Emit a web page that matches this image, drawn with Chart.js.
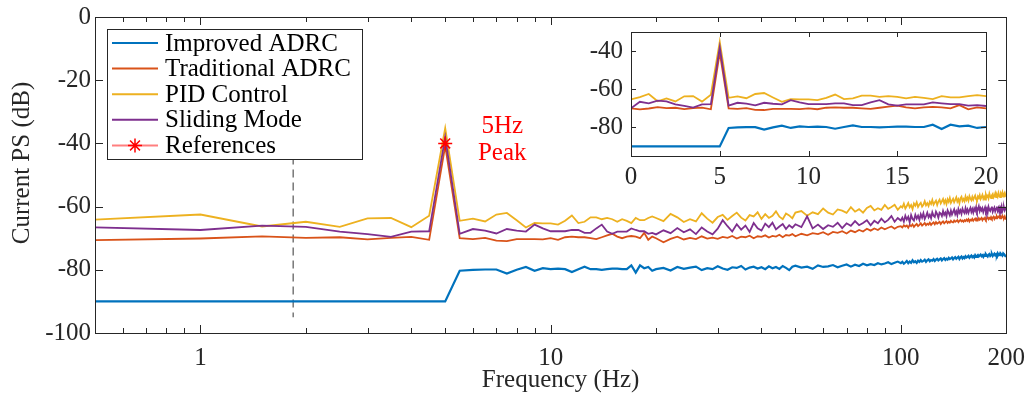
<!DOCTYPE html>
<html>
<head>
<meta charset="utf-8">
<script src="https://cdn.jsdelivr.net/npm/chart.js@4.4.1/dist/chart.umd.min.js"></script>
<style>
  html, body { margin: 0; padding: 0; background: #fff; }
  #wrap { position: relative; width: 1035px; height: 403px; }
  #main { position: absolute; left: 0; top: 0; }
  #inset { position: absolute; left: 580px; top: 20px; }
</style>
</head>
<body>
<div id="wrap">
  <canvas id="main" width="1035" height="403"></canvas>
  <canvas id="inset" width="430" height="185"></canvas>
</div>
<script>
// ---- data (dB), 0..20 Hz at 0.5 Hz, then coarser above 20 Hz ----
var freqLow = [0, 0.5, 1, 1.5, 2, 2.5, 3, 3.5, 4, 4.5, 5, 5.5, 6, 6.5, 7, 7.5, 8, 8.5, 9, 9.5, 10,
  10.5, 11, 11.5, 12, 12.5, 13, 13.5, 14, 14.5, 15, 15.5, 16, 16.5, 17, 17.5, 18, 18.5, 19, 19.5, 20];

var freqHigh = [21, 22, 23, 24, 25, 26, 27, 28, 29, 30, 31, 32, 33, 34, 35, 36, 37, 38, 39, 40,
  41, 42, 43, 44, 45, 46, 47, 48, 49, 50,
  52, 54, 56, 58, 60, 62, 64, 66, 68, 70, 72, 74, 76, 78, 80, 82, 84, 86, 88, 90, 92, 94, 96, 98, 100,
  101, 102, 103, 104, 105, 106, 107, 108, 109, 110, 111, 112, 113, 114, 115, 116, 117, 118, 119, 120,
  121, 122, 123, 124, 125, 126, 127, 128, 129, 130, 131, 132, 133, 134, 135, 136, 137, 138, 139, 140,
  141, 142, 143, 144, 145, 146, 147, 148, 149, 150, 151, 152, 153, 154, 155, 156, 157, 158, 159, 160,
  161, 162, 163, 164, 165, 166, 167, 168, 169, 170, 171, 172, 173, 174, 175, 176, 177, 178, 179, 180,
  181, 182, 183, 184, 185, 186, 187, 188, 189, 190, 191, 192, 193, 194, 195, 196, 197, 198, 199, 200];

var improvedLow = [-90, -90, -90, -90, -90, -90, -90, -90, -90, -90, -90, -80.3, -80.0, -79.9, -79.9, -81.2, -80.0, -79.1, -80.3, -79.5, -79.8,
  -79.6, -79.8, -80.7, -79.8, -79.0, -79.8, -79.8, -80.0, -79.8, -79.6, -79.6, -79.8, -79.8, -78.6, -80.9, -78.6, -79.5, -79.1, -80.3, -79.8];
var improvedHigh = [-79.4, -80.2, -79.1, -79.7, -79.3, -79.0, -80.1, -79.5, -79.8, -78.9, -79.6, -80.0, -79.2, -79.4, -78.8, -79.9, -79.3, -79.0, -79.6, -79.2,
  -79.8, -78.9, -79.5, -79.1, -79.7, -78.8, -79.4, -80.1, -79.0, -78.7,
  -79.3, -79.0, -79.7, -78.6, -79.1, -78.9, -78.5, -79.2, -78.7, -78.3, -79.0, -78.4, -78.8, -78.1, -78.6, -78.2, -78.5, -77.9, -78.3, -78.0, -77.6, -78.2, -77.8, -77.4, -77.9,
  -77.5, -78.1, -77.7, -77.2, -77.9, -77.4, -77.8, -77.0, -77.6, -77.3,
  -77.8, -77.1, -77.5, -76.9, -77.4, -77.2, -76.8, -77.5, -77.0, -76.7,
  -77.3, -76.9, -77.1, -76.6, -77.2, -76.8, -76.5, -77.0, -76.7, -76.4,
  -77.0, -76.6, -76.3, -76.9, -76.5, -76.8, -76.2, -76.6, -76.4, -76.1,
  -76.7, -76.3, -76.0, -76.5, -76.2, -75.9, -76.6, -76.1, -75.8, -76.4,
  -76.0, -76.3, -75.7, -76.1, -75.9, -75.6, -76.2, -75.8, -75.5, -76.0,
  -75.7, -76.1, -75.4, -75.9, -75.6, -75.3, -75.8, -75.5, -75.2, -75.7,
  -75.4, -75.9, -75.3, -75.6, -75.1, -75.5, -75.8, -75.2, -75.0, -75.6,
  -75.3, -75.0, -75.6, -75.2, -74.9, -75.4, -75.1, -75.5, -74.8, -75.3,
  -75.0, -75.4, -74.9, -75.2, -75.5, -74.8, -75.1, -75.3, -75.6, -75.4];

var traditionalLow = [-70.0, -70.6, -70.1, -69.4, -69.9, -69.7, -70.4, -69.9, -69.6, -70.5, -40.8, -70.0, -70.3, -69.9, -70.8, -70.9, -70.3, -70.3, -70.3, -70.4, -70.0,
  -70.5, -69.7, -69.5, -69.7, -69.7, -70.0, -70.3, -69.7, -69.1, -68.6, -69.5, -70.0, -69.5, -69.3, -69.5, -70.0, -68.3, -70.5, -69.5, -70.0];
var traditionalHigh = [-71.3, -70.2, -69.5, -70.4, -69.9, -70.3, -69.4, -70.1, -69.8, -70.2, -69.6, -69.9, -69.3, -70.1, -69.5, -69.7, -69.2, -70.0, -69.4, -69.6,
  -69.1, -69.8, -69.3, -69.5, -68.9, -69.7, -69.0, -69.2, -68.7, -69.4,
  -68.6, -69.1, -68.4, -68.7, -68.1, -68.9, -68.0, -68.3, -67.8, -68.5, -67.6, -68.1, -67.4, -67.9, -67.0, -67.6, -66.9, -67.4, -66.6, -67.2, -66.7, -66.3, -67.0, -66.4, -66.2,
  -66.6, -65.9, -66.3, -66.0, -66.7, -65.8, -66.2, -65.6, -66.4, -65.9,
  -65.5, -66.2, -65.8, -65.3, -66.0, -65.6, -65.2, -65.9, -65.4, -65.7,
  -65.1, -65.8, -65.3, -65.0, -65.6, -64.9, -65.4, -65.1, -64.8, -65.5,
  -65.0, -64.7, -65.3, -64.9, -64.6, -65.2, -64.8, -65.1, -64.5, -64.9,
  -65.0, -64.4, -64.8, -64.6, -64.3, -64.9, -64.5, -64.2, -64.7, -64.4,
  -64.8, -64.3, -64.6, -64.1, -64.5, -64.0, -64.7, -64.2, -64.4, -63.9,
  -64.5, -64.1, -63.8, -64.4, -64.0, -64.3, -63.7, -64.2, -63.9, -63.6,
  -64.3, -63.8, -64.0, -63.5, -64.1, -63.7, -63.4, -64.0, -63.6, -63.9,
  -63.3, -63.8, -63.5, -63.2, -63.9, -63.4, -63.7, -63.1, -63.6, -63.3,
  -63.0, -63.7, -63.2, -63.5, -62.9, -63.4, -63.6, -63.1, -63.8, -64.0];

var pidLow = [-65.3, -64.1, -62.5, -66.3, -64.8, -66.4, -63.7, -63.6, -66.5, -62.9, -35.2, -64.5, -63.8, -64.7, -62.5, -62.0, -64.3, -66.6, -65.2, -65.3, -65.3,
  -65.7, -64.5, -62.8, -65.2, -64.8, -63.4, -63.4, -64.0, -63.6, -64.0, -64.8, -64.0, -64.5, -65.2, -63.6, -64.3, -64.3, -63.6, -63.1, -63.6];
var pidHigh = [-64.6, -62.3, -63.4, -64.9, -64.0, -64.7, -62.1, -63.8, -65.1, -63.3, -62.6, -64.2, -63.0, -61.9, -63.5, -64.4, -62.7, -63.1, -61.8, -63.9,
  -62.4, -63.6, -62.9, -61.5, -63.2, -64.0, -62.2, -62.8, -63.7, -61.9,
  -61.4, -62.9, -61.8, -62.4, -60.6, -61.9, -62.5, -60.9, -61.3, -62.0, -60.2, -61.6, -60.8, -61.9, -60.4, -59.8, -61.2, -60.5, -61.0, -59.5, -60.7, -60.1, -59.4, -61.0, -59.9,
  -60.3, -59.1, -60.6, -59.8, -58.9, -60.2, -59.5, -60.8, -59.0, -59.7,
  -58.6, -60.1, -59.3, -58.8, -60.0, -59.4, -58.3, -59.6, -58.9, -59.8,
  -58.5, -59.2, -57.9, -59.4, -58.7, -58.1, -59.5, -58.4, -57.8, -59.0,
  -58.3, -57.6, -58.9, -58.0, -59.2, -57.7, -58.5, -57.3, -58.8, -58.1,
  -57.5, -58.6, -57.9, -57.1, -58.4, -57.7, -58.9, -57.4, -56.9, -58.2,
  -57.6, -58.3, -56.8, -57.9, -57.2, -58.1, -56.7, -57.5, -58.0, -56.9,
  -57.8, -57.1, -56.5, -57.7, -58.0, -56.8, -57.3, -56.4, -57.6, -57.0,
  -56.3, -57.5, -56.9, -57.8, -56.2, -57.0, -56.6, -57.4, -55.9, -56.8,
  -57.3, -56.4, -56.0, -57.1, -56.7, -55.8, -57.0, -56.3, -56.9, -55.7,
  -56.6, -57.0, -55.9, -56.4, -55.5, -56.8, -56.1, -55.6, -56.5, -56.2];

var slidingLow = [-70.0, -66.6, -67.4, -66.0, -66.4, -67.9, -68.7, -69.6, -67.9, -67.8, -38.0, -68.6, -67.1, -67.6, -68.5, -67.1, -67.6, -67.9, -65.7, -66.9, -67.8,
  -67.8, -67.8, -67.4, -67.4, -68.3, -68.3, -66.9, -65.7, -67.9, -68.6, -67.9, -67.9, -67.9, -66.9, -67.4, -67.8, -67.8, -68.6, -68.3, -68.8];
var slidingHigh = [-67.5, -68.4, -66.8, -68.1, -67.2, -68.7, -66.6, -67.9, -68.8, -67.0, -64.3, -66.2, -67.9, -65.6, -67.3, -66.0, -68.0, -65.2, -66.9, -67.6,
  -65.4, -66.5, -65.1, -67.2, -66.3, -65.5, -67.1, -65.9, -66.7, -65.6,
  -66.5, -63.1, -66.9, -65.7, -67.1, -65.9, -66.4, -65.1, -66.8, -65.3, -66.1, -64.6, -65.9, -65.2, -64.3, -65.9, -64.5, -65.3, -63.8, -65.0, -64.2, -63.0, -64.8, -63.6, -64.4,
  -63.5, -64.8, -62.9, -64.1, -63.2, -65.0, -62.7, -63.9, -64.4, -62.6,
  -63.8, -62.9, -64.2, -62.4, -63.5, -62.1, -63.9, -63.0, -61.9, -63.4,
  -62.6, -63.7, -61.8, -62.9, -63.3, -61.6, -62.4, -63.5, -61.9, -62.2,
  -63.0, -61.4, -62.6, -61.9, -63.1, -61.2, -62.0, -62.8, -61.3, -62.5,
  -61.7, -60.9, -62.4, -61.5, -62.7, -60.8, -61.9, -61.2, -62.3, -60.7,
  -61.6, -62.1, -60.5, -61.8, -60.9, -62.0, -61.1, -60.4, -61.7, -60.8,
  -61.9, -60.6, -61.3, -60.2, -61.6, -60.9, -59.9, -61.4, -60.5, -61.2,
  -60.5, -61.8, -61.0, -60.2, -61.5, -60.7, -61.9, -60.1, -61.0, -61.4,
  -60.6, -60.0, -61.6, -60.9, -60.3, -61.5, -60.7, -60.0, -61.3, -60.5,
  -61.6, -60.3, -61.0, -59.9, -61.4, -60.7, -60.2, -61.2, -60.6, -61.1];

var refX = [5];
var refY = [-40];
var cutoffX = [1.84, 1.84];
var cutoffY = [-40, -95];

var seriesNames = ['Improved ADRC', 'Traditional ADRC', 'PID Control', 'Sliding Mode', 'References'];
var seriesColors = ['#0072BD', '#D95319', '#EDB120', '#7E2F8E', '#FF0000'];

var xMajorTicks = [1, 10, 100, 200];
var yTicksMain = [-100, -80, -60, -40, -20, 0];
var xTicksInset = [0, 5, 10, 15, 20];
var yTicksInset = [-80, -60, -40];

// ---- helpers ----
var FONT = '"Times New Roman", "Liberation Serif", serif';
var AXIS = '#262626';

function pairs(xs, ys) {
  return xs.map(function (x, i) { return { x: x, y: ys[i] }; });
}

function lineSet(label, color, data, order, width) {
  return {
    label: label, data: data, borderColor: color, backgroundColor: color,
    borderWidth: width || 1.8, pointRadius: 0, tension: 0, order: order
  };
}

// minor ticks for the log axis
var xMinor = [];
[0.1, 1, 10].forEach(function (d) {
  for (var k = 2; k <= 9; k++) { var v = k * d; if (v > 0.5 && v < 200) xMinor.push(v); }
});

function noPad(s) { s.paddingTop = 0; s.paddingBottom = 0; }

function frame(opts) {
  return {
    id: 'frame',
    beforeDraw: function (chart) {
      var a = chart.chartArea, ctx = chart.ctx;
      ctx.save();
      ctx.fillStyle = '#fff';
      ctx.fillRect(a.left, a.top, a.right - a.left, a.bottom - a.top);
      ctx.restore();
    },
    afterDraw: function (chart) {
      var ctx = chart.ctx, a = chart.chartArea, sx = chart.scales.x, sy = chart.scales.y;
      ctx.save();
      ctx.strokeStyle = AXIS;
      ctx.lineWidth = 1;
      ctx.beginPath();
      function xt(v, L) {
        var p = Math.round(sx.getPixelForValue(v)) + 0.5;
        ctx.moveTo(p, a.bottom); ctx.lineTo(p, a.bottom - L);
        ctx.moveTo(p, a.top); ctx.lineTo(p, a.top + L);
      }
      function yt(v, L) {
        var p = Math.round(sy.getPixelForValue(v)) + 0.5;
        ctx.moveTo(a.left, p); ctx.lineTo(a.left + L, p);
        ctx.moveTo(a.right, p); ctx.lineTo(a.right - L, p);
      }
      opts.xMajor.forEach(function (v) { xt(v, opts.major); });
      (opts.xMinor || []).forEach(function (v) { xt(v, opts.minor); });
      opts.yMajor.forEach(function (v) { yt(v, opts.major); });
      ctx.stroke();
      ctx.strokeRect(Math.round(a.left) + 0.5, Math.round(a.top) + 0.5,
        Math.round(a.right - a.left), Math.round(a.bottom - a.top));
      ctx.restore();
      if (opts.extra) opts.extra(chart);
    }
  };
}

function drawStar(ctx, x, y, r) {
  ctx.beginPath();
  for (var i = 0; i < 4; i++) {
    var t = i * Math.PI / 4;
    ctx.moveTo(x - Math.cos(t) * r, y - Math.sin(t) * r);
    ctx.lineTo(x + Math.cos(t) * r, y + Math.sin(t) * r);
  }
  ctx.stroke();
}

function mainExtras(chart) {
  var ctx = chart.ctx, a = chart.chartArea, sx = chart.scales.x, sy = chart.scales.y;
  ctx.save();
  // legend
  var lx = a.left + 12, ly = a.top + 12, lw = 255, lh = 130;
  ctx.fillStyle = '#fff';
  ctx.fillRect(lx, ly, lw, lh);
  ctx.strokeStyle = AXIS;
  ctx.lineWidth = 1;
  ctx.strokeRect(lx + 0.5, ly + 0.5, lw, lh);
  ctx.font = '25px ' + FONT;
  ctx.textBaseline = 'middle';
  ctx.textAlign = 'left';
  seriesNames.forEach(function (name, i) {
    var cy = ly + 14 + i * 25.6;
    ctx.lineWidth = 2;
    ctx.strokeStyle = i === 4 ? 'rgba(255,0,0,0.5)' : seriesColors[i];
    ctx.beginPath();
    ctx.moveTo(lx + 5, cy); ctx.lineTo(lx + 51, cy);
    ctx.stroke();
    if (i === 4) {
      ctx.strokeStyle = '#FF0000';
      ctx.lineWidth = 1.5;
      drawStar(ctx, lx + 28, cy, 7);
    }
    ctx.fillStyle = '#000';
    ctx.fillText(name, lx + 58, cy + 1);
  });
  // peak note
  ctx.fillStyle = '#FF0000';
  ctx.textAlign = 'center';
  var px = sx.getPixelForValue(5) + 57;
  ctx.fillText('5Hz', px, sy.getPixelForValue(-34.5));
  ctx.fillText('Peak', px, sy.getPixelForValue(-43.1));
  // axis titles
  ctx.fillStyle = AXIS;
  ctx.fillText('Frequency (Hz)', (a.left + a.right) / 2 + 10, 380);
  ctx.translate(22, (a.top + a.bottom) / 2 - 12);
  ctx.rotate(-Math.PI / 2);
  ctx.fillText('Current PS (dB)', 0, 0);
  ctx.restore();
}

// ---- main chart ----
var mainX = freqLow.slice(1).concat(freqHigh);
new Chart(document.getElementById('main'), {
  type: 'line',
  data: {
    datasets: [
      {
        label: seriesNames[4], data: pairs(refX, refY), showLine: false,
        pointStyle: 'star', pointRadius: 7, pointBorderColor: '#FF0000', pointBorderWidth: 1.5,
        pointBackgroundColor: '#FF0000', order: 0
      },
      lineSet(seriesNames[3], seriesColors[3], pairs(mainX, slidingLow.slice(1).concat(slidingHigh)), 1),
      lineSet(seriesNames[2], seriesColors[2], pairs(mainX, pidLow.slice(1).concat(pidHigh)), 2),
      lineSet(seriesNames[1], seriesColors[1], pairs(mainX, traditionalLow.slice(1).concat(traditionalHigh)), 3),
      lineSet(seriesNames[0], seriesColors[0], pairs(mainX, improvedLow.slice(1).concat(improvedHigh)), 4, 2.2),
      {
        label: 'cutoff', data: pairs(cutoffX, cutoffY), borderColor: '#555',
        borderWidth: 1.2, borderDash: [8, 5], pointRadius: 0, order: 5
      }
    ]
  },
  options: {
    responsive: false, animation: false, devicePixelRatio: 1,
    layout: { padding: { left: 0, right: 28, top: 17, bottom: 0 } },
    plugins: { legend: { display: false }, tooltip: { enabled: false } },
    scales: {
      x: {
        type: 'logarithmic', min: 0.5, max: 200,
        grid: { display: false, drawTicks: false }, border: { display: false },
        afterBuildTicks: function (s) { s.ticks = xMajorTicks.map(function (v) { return { value: v }; }); },
        afterFit: function (s) { s.height = 70; },
        ticks: {
          autoSkip: false, maxRotation: 0, padding: 10, color: AXIS,
          font: { family: FONT, size: 25 },
          callback: function (v) { return String(v); }
        }
      },
      y: {
        min: -100, max: 0,
        grid: { display: false, drawTicks: false }, border: { display: false },
        afterBuildTicks: function (s) { s.ticks = yTicksMain.map(function (v) { return { value: v }; }); },
        afterFit: function (s) { s.width = 95; noPad(s); },
        ticks: { padding: 4, color: AXIS, font: { family: FONT, size: 25 } }
      }
    }
  },
  plugins: [frame({ xMajor: xMajorTicks, xMinor: xMinor, yMajor: yTicksMain, major: 8, minor: 5, extra: mainExtras })]
});

// ---- inset ----
new Chart(document.getElementById('inset'), {
  type: 'line',
  data: {
    datasets: [
      lineSet(seriesNames[3], seriesColors[3], pairs(freqLow, slidingLow), 1),
      lineSet(seriesNames[2], seriesColors[2], pairs(freqLow, pidLow), 2),
      lineSet(seriesNames[1], seriesColors[1], pairs(freqLow, traditionalLow), 3),
      lineSet(seriesNames[0], seriesColors[0], pairs(freqLow, improvedLow), 4, 2.2)
    ]
  },
  options: {
    responsive: false, animation: false, devicePixelRatio: 1,
    layout: { padding: { left: 0, right: 24, top: 12, bottom: 0 } },
    plugins: { legend: { display: false }, tooltip: { enabled: false } },
    scales: {
      x: {
        type: 'linear', min: 0, max: 20,
        grid: { display: false, drawTicks: false }, border: { display: false },
        afterBuildTicks: function (s) { s.ticks = xTicksInset.map(function (v) { return { value: v }; }); },
        afterFit: function (s) { s.height = 49; },
        ticks: { padding: 6, color: AXIS, font: { family: FONT, size: 25 } }
      },
      y: {
        min: -95, max: -30,
        grid: { display: false, drawTicks: false }, border: { display: false },
        afterBuildTicks: function (s) { s.ticks = yTicksInset.map(function (v) { return { value: v }; }); },
        afterFit: function (s) { s.width = 51; noPad(s); },
        ticks: { padding: 8, color: AXIS, font: { family: FONT, size: 25 } }
      }
    }
  },
  plugins: [frame({ xMajor: xTicksInset, yMajor: yTicksInset, major: 5, minor: 3 })]
});
</script>
</body>
</html>
